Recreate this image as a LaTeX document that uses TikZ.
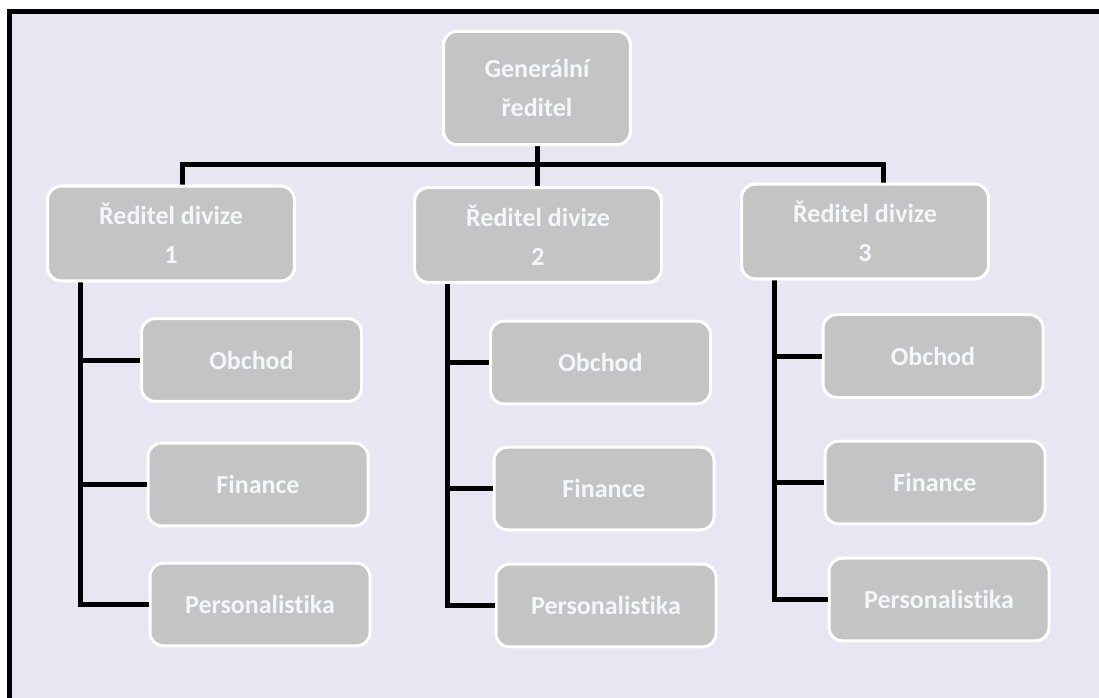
\documentclass[tikz,border=0pt]{standalone}
\usepackage{fontspec}
\setmainfont{Carlito}[Ligatures=NoCommon]
\usetikzlibrary{calc}
\definecolor{lavender}{RGB}{232,230,243}
\definecolor{boxgray}{RGB}{196,196,196}
\definecolor{textwhite}{RGB}{244,246,251}

\begin{document}
\begin{tikzpicture}[x=0.75pt, y=-0.75pt]

        % Box styles of the chart, one per level
        \tikzset{
            unit/.style={draw=white, line width=2.25pt, fill=boxgray,
                rounded corners=10pt, text=textwhite, align=center,
                font=\fontsize{19.5}{29}\selectfont\bfseries},
            head/.style={unit, minimum width=140pt, minimum height=85pt},
            divbox/.style={unit, minimum width=185pt, minimum height=71pt},
            dept/.style={unit, minimum width=165pt, minimum height=62pt}
        }

        % Page with the lavender background, framed on top and left only
        \useasboundingbox (0, 0) rectangle (1099, 697);
        \fill[white] (-20, -20) rectangle (1120, 720);
        \fill[lavender] (12, 13) rectangle (1120, 720);
        \draw[line width=3.75pt] (9.5, 720) -- (9.5, 11) -- (1120, 11);

        % Director and the three divisions
        \node (gen) at (537, 88) [head] {Generální\\ředitel};
        \node (div1) at (171, 233.5) [divbox] {Ředitel divize\\1};
        \node (div2) at (538, 235) [divbox] {Ředitel divize\\2};
        \node (div3) at (865, 231.5) [divbox] {Ředitel divize\\3};

        % Departments of each division
        \node (obch1) at (251.5, 360) [dept] {Obchod};
        \node (fin1) at (258, 484.5) [dept] {Finance};
        \node (per1) at (260, 604.5) [dept] {Personalistika};

        \node (obch2) at (600.5, 362.5) [dept] {Obchod};
        \node (fin2) at (604, 488.5) [dept] {Finance};
        \node (per2) at (606, 605.5) [dept] {Personalistika};

        \node (obch3) at (933, 356) [dept] {Obchod};
        \node (fin3) at (935, 482.5) [dept] {Finance};
        \node (per3) at (939, 599.5) [dept] {Personalistika};

        % Connectors
        \begin{scope}[line width=3.75pt]
            \coordinate (bus) at (537, 164);
            \draw (gen.south) -- (gen.south |- div2.north);
            \draw ([xshift=8.25pt]div1.north) |- (bus) -| ([xshift=13.5pt]div3.north);

            \foreach \i in {1, 2, 3} {
                \coordinate (trunk\i) at ([xshift=-68pt]div\i.south);
                \draw (trunk\i) |- (per\i.west);
                \draw (obch\i.west) -- (obch\i.west -| trunk\i);
                \draw (fin\i.west) -- (fin\i.west -| trunk\i);
            }
        \end{scope}

        % Boxes again on top of the connector ends
        \node at (gen) [head] {Generální\\ředitel};
        \foreach \i in {1, 2, 3} {
            \node at (div\i) [divbox] {Ředitel divize\\\i};
        }

\end{tikzpicture}
\end{document}
